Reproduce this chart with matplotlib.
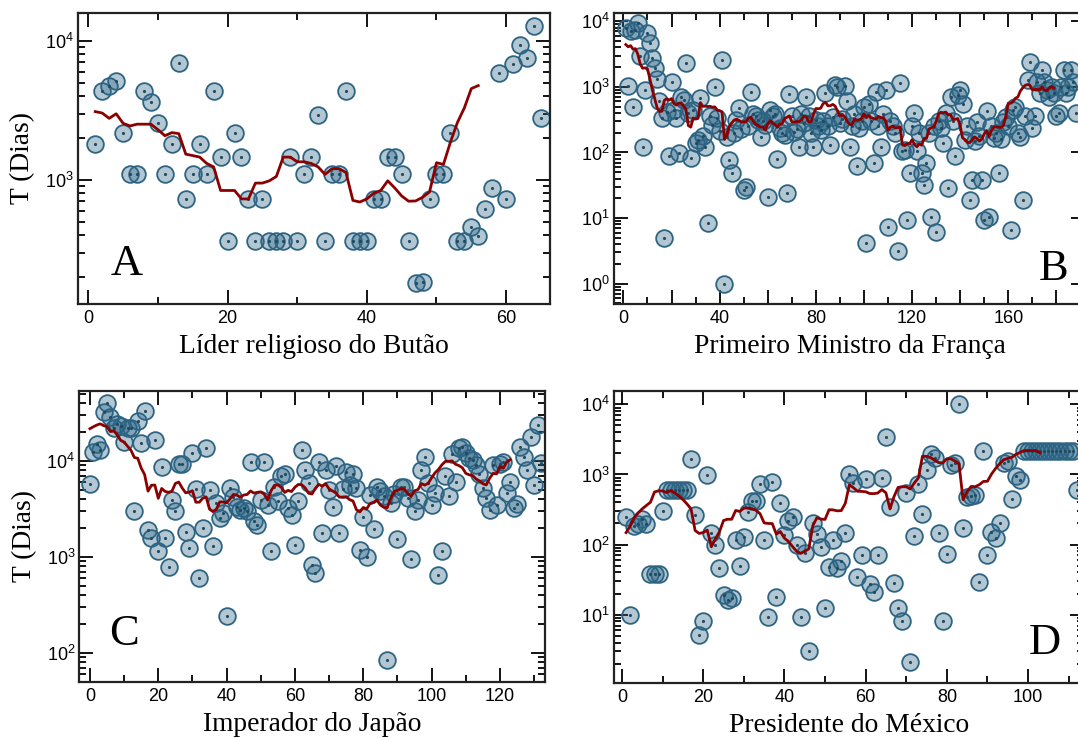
import numpy as np
import pandas as pd
import matplotlib
matplotlib.use('Agg')
import matplotlib.pyplot as plt
from matplotlib.ticker import MultipleLocator, LogLocator, NullFormatter, FuncFormatter

plt.rcParams['font.family'] = ['Liberation Sans', 'DejaVu Sans']
plt.rcParams['mathtext.default'] = 'regular'

# tempo no cargo (dias), um valor por lider, na ordem
butao_t = [1825, 4380, 4745, 5110, 2190, 1095, 1095, 4380, 3650, 2555,
           1095, 1825, 6935, 730, 1095, 1825, 1095, 4380, 1460, 365,
           2190, 1460, 730, 365, 730, 365, 365, 365, 1460, 365,
           1095, 1460, 2920, 365, 1095, 1095, 4380, 365, 365, 365,
           730, 730, 1460, 1460, 1095, 365, 182, 185, 730, 1095,
           1095, 2190, 365, 365, 456, 395, 620, 880, 5840, 730,
           6850, 9350, 7500, 12800, 2780]

franca_t = [8000, 1050, 7000, 500, 7500, 9500, 3000, 120, 900, 6600,
            4700, 2750, 1950, 1300, 600, 330, 5, 420, 87, 1200,
            450, 330, 98, 700, 630, 2300, 400, 82, 450, 138,
            155, 680, 180, 123, 8.3, 355, 265, 1000, 330, 210,
            2600, 1, 175, 78, 48, 200, 315, 480, 225, 27,
            30, 250, 850, 380, 355, 315, 175, 300, 260, 21,
            450, 355, 380, 80, 235, 200, 188, 24, 790, 355,
            205, 225, 123, 380, 280, 710, 355, 200, 123, 315,
            250, 220, 300, 800, 250, 130, 350, 1070, 1000, 280,
            320, 1040, 600, 120, 250, 380, 62, 235, 300, 500,
            4.2, 540, 300, 69, 830, 250, 123, 380, 890, 7.4,
            300, 250, 200, 3.1, 1150, 105, 110, 9.3, 48, 250,
            400, 105, 200, 48, 32, 70, 200, 10.5, 250, 6.1,
            300, 235, 138, 400, 29, 710, 300, 87, 760, 910,
            540, 155, 250, 19, 38, 150, 295, 180, 38, 9.3,
            430, 10.5, 250, 165, 200, 48, 160, 295, 350, 250,
            6.6, 450, 500, 200, 175, 19, 355, 1290, 2400, 235,
            355, 1200, 810, 1800, 1200, 910, 700, 1000, 800, 355,
            400, 1000, 1800, 800, 1000, 1800, 1200, 400]

japao_t = [5700, 12500, 14900, 13000, 32000, 40600, 29000, 21900, 24000, 23300,
           15900, 22000, 21900, 3020, 26100, 15200, 33000, 1910, 1560, 16500,
           1140, 8700, 1560, 775, 3900, 3020, 9300, 9300, 1820, 1230,
           12000, 5140, 600, 1990, 13800, 5000, 1290, 3640, 2530, 2840,
           240, 5200, 4250, 3330, 3090, 3200, 3000, 9700, 2370, 2150,
           3900, 9700, 3500, 1160, 5400, 3800, 6900, 7300, 3220, 2750,
           1340, 3800, 13000, 8100, 5900, 830, 680, 9700, 1770, 8100,
           5000, 3320, 8900, 1770, 5140, 7600, 5600, 7300, 5200, 1180,
           2620, 1000, 4440, 1950, 5400, 4800, 4300, 83, 3600, 4500,
           1540, 5400, 5400, 4100, 960, 2970, 3900, 8100, 11100, 5900,
           3490, 4600, 640, 1160, 7000, 4340, 11700, 6000, 13600, 14100,
           12000, 10800, 10200, 9000, 7300, 5200, 4100, 3090, 9100, 3500,
           9300, 9700, 4600, 5970, 3250, 3530, 14100, 11100, 8100, 17900,
           5600, 23700, 9500]

mexico_t = [245, 10, 187, 197, 230, 197, 38, 38, 38, 300,
            600, 600, 600, 600, 600, 600, 1650, 260, 5.1, 8,
            970, 145, 98, 47, 19, 16.4, 17.3, 115, 50, 130,
            290, 420, 420, 725, 115, 9.2, 790, 18, 390, 138,
            220, 250, 100, 9.2, 76, 3, 205, 140, 92, 12.3,
            48, 117, 47, 59, 145, 1000, 750, 35, 71, 870,
            27.5, 21, 71, 890, 3400, 340, 28, 12.3, 8, 550,
            2.1, 132, 725, 275, 1150, 1960, 1730, 145, 8, 74,
            1380, 1480, 10000, 170, 470, 500, 510, 29.5, 2140, 71,
            150, 126, 200, 1480, 1540, 445, 960, 830, 2190, 2190,
            2190, 2190, 2190, 2190, 2190, 2190, 2190, 2190, 2190, 2190,
            2190, 600]

paineis = [
    # dados, primeiro indice, rotulo x, letra, rect, xlim, ylim, pos letra
    (butao_t, 1, 'Líder religioso do Butão', 'A',
     [0.0726, 0.5881, 0.4376, 0.3943], (-1.44, 66.3), (128, 15900), (0.068, 0.10)),
    (franca_t, 1, 'Primeiro Ministro da França', 'B',
     [0.5696, 0.5881, 0.4369, 0.3943], (-3.9, 191.9), (0.49, 13400), (0.902, 0.082)),
    (japao_t, 0, 'Imperador do Japão', 'C',
     [0.0737, 0.0759, 0.4319, 0.3943], (-3.07, 133.2), (49.5, 53600), (0.064, 0.127)),
    (mexico_t, 1, 'Presidente do México', 'D',
     [0.5696, 0.0745, 0.4360, 0.3957], (-1.97, 113.8), (1.06, 15500), (0.883, 0.10)),
]

fig = plt.figure(figsize=(10.78, 7.38), dpi=100)

for dados, x0, xlab, letra, rect, xl, yl, lpos in paineis:
    ax = fig.add_axes(rect)
    t = np.array(dados, dtype=float)
    x = np.arange(x0, x0 + len(t))
    # media movel de 10 lideres
    media = pd.Series(t).rolling(10).mean().dropna().values

    ax.plot(x, t, 'o', ms=12, mfc=(0.176, 0.40, 0.52, 0.36),
            mec='#2d6483', mew=1.3, zorder=2)
    ax.plot(x, t, '.', ms=2.5, color='#1e4a63', zorder=3)
    ax.plot(x[:len(media)], media, color='#8b0000', lw=2.0, zorder=4)

    ax.set_yscale('log')
    ax.set_xlim(*xl)
    ax.set_ylim(*yl)
    ax.xaxis.set_major_locator(MultipleLocator(20))
    ax.xaxis.set_minor_locator(MultipleLocator(10))
    if letra == 'B':
        ax.xaxis.set_major_formatter(FuncFormatter(
            lambda v, p: '%d' % v if round(v) % 40 == 0 else ''))
    else:
        ax.xaxis.set_major_formatter(FuncFormatter(lambda v, p: '%d' % v))
    ax.yaxis.set_major_locator(LogLocator(base=10, numticks=20))
    ax.yaxis.set_minor_locator(LogLocator(base=10, subs=np.arange(2, 10), numticks=20))
    ax.yaxis.set_minor_formatter(NullFormatter())

    ax.tick_params(which='both', direction='in', top=True, right=True,
                   width=1.3, colors='black', labelsize=13)
    ax.tick_params(which='major', length=10)
    ax.tick_params(which='minor', length=5)
    ax.tick_params(axis='x', pad=4.5)
    ax.tick_params(axis='y', pad=3)
    for s in ax.spines.values():
        s.set_linewidth(1.6)
        s.set_color('#222222')

    ax.set_xlabel(xlab, family='Liberation Serif', fontsize=19.8, labelpad=5)
    if letra in ('A', 'C'):
        ax.set_ylabel('T (Dias)', family='Liberation Serif', fontsize=19.8, labelpad=7)
    ax.text(lpos[0], lpos[1], letra, transform=ax.transAxes,
            family='Liberation Serif', fontsize=32, ha='left', va='baseline')

fig.savefig('out.png', dpi=100)
